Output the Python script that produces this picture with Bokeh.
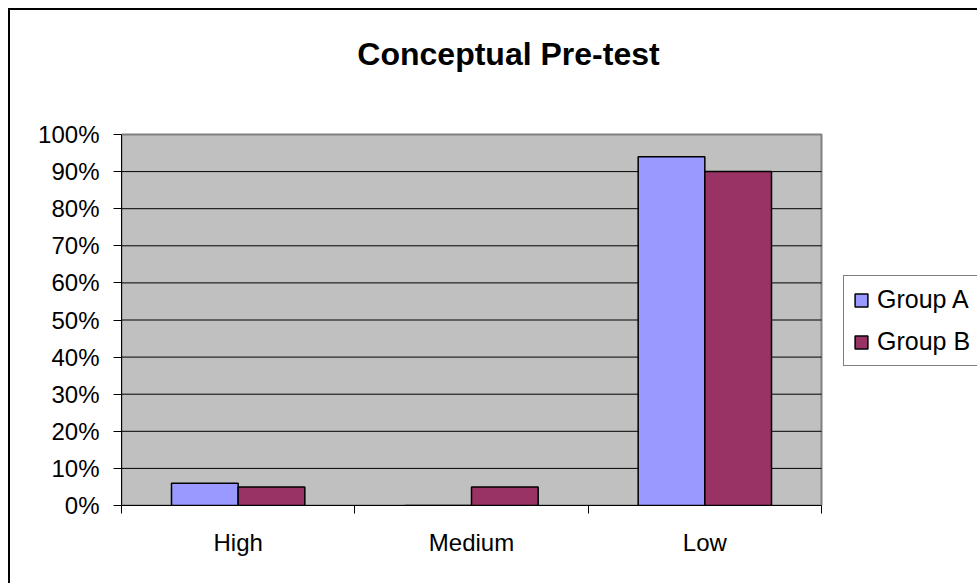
from bokeh.plotting import figure
from bokeh.models import (ColumnDataSource, Range1d, LinearAxis, Label,
                          FixedTicker, NumeralTickFormatter, Legend, LegendItem)
from bokeh.embed import file_html
from bokeh.resources import INLINE

categories = ["High", "Medium", "Low"]
group_a = [0.06, 0.0, 0.94]
group_b = [0.05, 0.05, 0.90]
y_ticks = [0.0, 0.1, 0.2, 0.3, 0.4, 0.5, 0.6, 0.7, 0.8, 0.9, 1.0]
grid_ticks = [0.1, 0.2, 0.3, 0.4, 0.5, 0.6, 0.7, 0.8, 0.9]
title_text = "Conceptual Pre-test"

FONT = "Liberation Sans"

n = len(categories)
centers = [i + 0.5 for i in range(n)]
edges = [i for i in range(n + 1)]
bw = 1 / 3.5

# layout constants (pixels)
W, H = 969, 575
LEFT, BOTTOM = 113, 78
PLOT_W, PLOT_H = 700, 371          # size of the grey plot area
frame_w, frame_h = W - LEFT, H - BOTTOM
x_max = n * frame_w / PLOT_W
y_max = y_ticks[-1] * frame_h / PLOT_H

source = ColumnDataSource(dict(
    xa=[c - bw / 2 for c in centers], xb=[c + bw / 2 for c in centers],
    a=group_a, b=group_b))
grid_src = ColumnDataSource(dict(x0=[0] * len(grid_ticks), x1=[n] * len(grid_ticks),
                                 y=grid_ticks))

p = figure(x_range=Range1d(0, x_max), y_range=Range1d(0, y_max),
           width=W, height=H, output_backend="svg", toolbar_location=None,
           x_axis_location=None, y_axis_location=None, title=None,
           min_border_left=LEFT, min_border_right=0, min_border_top=0, min_border_bottom=BOTTOM)
p.center = []
p.border_fill_color = None
p.background_fill_color = None
p.outline_line_color = None
p.styles = {"box-shadow": "inset 2px 2px 0 0 black", "margin-left": "8px", "margin-top": "8px"}

# grey plot area
p.quad(left=[0], right=[n], bottom=[y_ticks[0]], top=[y_ticks[-1]],
       fill_color="#C0C0C0", line_color="#808080", line_width=2)

# horizontal gridlines
p.segment(x0="x0", x1="x1", y0="y", y1="y", source=grid_src, line_color="black", line_width=1)

# y axis
yaxis = LinearAxis(ticker=FixedTicker(ticks=y_ticks), formatter=NumeralTickFormatter(format="0%"),
                   bounds=(y_ticks[0], y_ticks[-1]),
                   major_tick_out=8, major_tick_in=0, minor_tick_line_color=None,
                   major_label_standoff=14, major_label_text_font=FONT,
                   major_label_text_font_size="24px", major_label_text_color="black",
                   axis_line_color="black", major_tick_line_color="black")
p.add_layout(yaxis, "left")

# x edge ticks (category boundaries)
tick_axis = LinearAxis(ticker=FixedTicker(ticks=edges), bounds=(0, n),
                       major_label_overrides={e: "" for e in edges},
                       major_tick_out=8, major_tick_in=0, minor_tick_line_color=None,
                       major_label_text_font_size="1px", major_label_standoff=0,
                       axis_line_color="black", major_tick_line_color="black")
p.add_layout(tick_axis, "below")

# category labels
cat_axis = LinearAxis(ticker=FixedTicker(ticks=centers), bounds=(0, n),
                      major_label_overrides={c: name for c, name in zip(centers, categories)},
                      axis_line_color=None, major_tick_line_color=None,
                      major_tick_out=0, major_tick_in=0, minor_tick_line_color=None,
                      major_label_standoff=15, major_label_text_font=FONT,
                      major_label_text_font_size="24px", major_label_text_color="black")
p.add_layout(cat_axis, "below")

ra = p.vbar(x="xa", top="a", width=bw, source=source,
            fill_color="#9999FF", line_color="black", line_width=1.5)
rb = p.vbar(x="xb", top="b", width=bw, source=source,
            fill_color="#993366", line_color="black", line_width=1.5)

# title
p.add_layout(Label(x=n * (508 - 121) / PLOT_W, y=(505 - 53) / PLOT_H, text=title_text,
                   text_align="center", text_baseline="alphabetic",
                   text_font=FONT, text_font_size="32px", text_font_style="bold",
                   text_color="black"))

legend = Legend(items=[LegendItem(label="Group A", renderers=[ra]),
                       LegendItem(label="Group B", renderers=[rb])],
                location=(722, 139), border_line_color="black", border_line_width=1,
                background_fill_color="white", background_fill_alpha=1,
                label_text_font=FONT, label_text_font_size="25px", label_text_color="black",
                glyph_width=16, glyph_height=16, label_standoff=8, label_height=29,
                spacing=13, padding=9, margin=0)
p.add_layout(legend)

open("out.html", "w").write(file_html(p, INLINE))
